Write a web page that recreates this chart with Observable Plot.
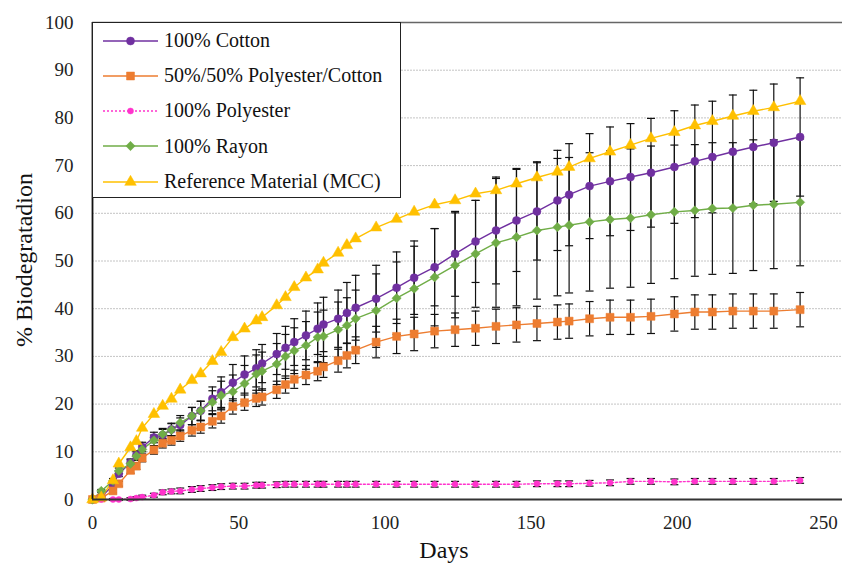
<!DOCTYPE html>
<html><head><meta charset="utf-8">
<script src="https://cdn.jsdelivr.net/npm/d3@7"></script>
<script src="https://cdn.jsdelivr.net/npm/@observablehq/plot@0.6"></script>
<style>
body{margin:0;background:#fff;}
#wrap{position:relative;width:842px;height:566px;font-family:"Liberation Serif","Times New Roman",serif;overflow:hidden;}
#legend{position:absolute;left:92px;top:22px;width:309px;height:176px;border:1.5px solid #222;background:#fff;box-sizing:border-box;}
.row{position:absolute;left:0;height:30px;display:flex;align-items:center;font-size:20px;color:#111;white-space:nowrap;}
.row svg{margin-left:10px;margin-right:6px;}
.title{position:absolute;font-size:24px;color:#111;white-space:nowrap;}
</style></head><body><div id="wrap"></div>
<script>
// ---- data ----
const days = [0,3,7,9,13,15,17,21,24,27, 30,34,37,41,44,48,52,56,58,63, 66,69,73,77,79,84,87,90,97,104, 110,117,124,131,138,145,152,159,163,170, 177,184,191,199,206,212,219,226,233,242];

const cotton = [0,0.5,3.0,5.4,7.7,9.3,11.0,13.0,13.5,14.7, 15.6,17.5,18.6,21.1,22.5,24.5,26.2,27.5,28.5,30.5, 31.8,33.0,34.4,35.8,36.7,37.9,39.1,40.2,42.1,44.4, 46.5,48.7,51.5,54.1,56.4,58.5,60.4,62.7,63.9,65.7, 66.7,67.6,68.5,69.7,70.9,71.8,72.9,73.9,74.8,76.0];
const cottonErr = [0,0.3,0.5,0.6,0.8,0.9,1.0,1.1,1.2,1.3, 1.5,1.8,2.0,2.5,3.2,3.8,3.9,3.9,4.0,4.3, 4.5,4.9,5.1,5.4,5.7,6.0,6.4,6.8,7.0,7.5, 7.7,8.1,8.9,8.6,11.2,10.7,10.2,10.5,10.7,11.0, 11.4,11.2,11.4,11.8,11.8,11.7,11.9,11.9,12.3,12.4];

const blend = [0,0.3,1.8,3.3,6.1,7.0,8.7,10.4,11.8,12.4, 13.3,14.5,15.2,16.4,17.5,19.5,20.3,21.2,21.5,23.0, 24.1,25.2,26.1,26.9,27.8,29.1,30.2,31.3,33.0,34.2, 34.7,35.3,35.6,35.9,36.3,36.6,36.9,37.2,37.4,37.9, 38.2,38.2,38.4,38.9,39.3,39.3,39.5,39.5,39.5,39.8];
const blendErr = [0,0.2,0.4,0.5,0.6,0.7,0.8,0.9,1.0,1.0, 1.1,1.2,1.3,1.4,1.5,1.6,1.6,1.7,1.7,1.8, 1.8,1.9,2.0,2.0,2.2,2.4,2.6,2.8,3.3,3.6, 3.5,3.5,3.5,3.6,3.6,3.6,3.6,3.6,3.6,3.6, 3.6,3.6,3.6,3.6,3.6,3.6,3.6,3.6,3.6,3.6];

const polyester = [0,0,0,0,0.1,0.3,0.5,0.9,1.5,1.7, 1.8,2.1,2.3,2.5,2.7,2.8,2.8,3.0,3.0,3.1, 3.2,3.2,3.2,3.2,3.2,3.2,3.2,3.2,3.2,3.2, 3.2,3.2,3.2,3.2,3.2,3.2,3.3,3.3,3.3,3.4, 3.5,3.8,3.8,3.7,3.8,3.8,3.8,3.8,3.8,4.0];
const polyesterErr = [0,0,0.2,0.2,0.3,0.3,0.4,0.4,0.5,0.5, 0.6,0.6,0.6,0.6,0.6,0.6,0.6,0.6,0.6,0.6, 0.6,0.6,0.6,0.6,0.6,0.6,0.6,0.6,0.6,0.6, 0.6,0.6,0.6,0.6,0.6,0.6,0.6,0.6,0.6,0.6, 0.6,0.6,0.6,0.6,0.6,0.6,0.6,0.6,0.6,0.6];

const rayon = [0,1.8,3.9,6.0,7.5,9.1,10.5,12.4,13.7,14.6, 16.1,17.5,18.6,20.4,21.8,22.6,24.3,26.3,26.9,28.4, 30.0,31.2,32.3,34.0,34.2,35.6,36.5,37.9,39.6,42.2, 44.2,46.6,49.1,51.5,53.8,55.0,56.4,57.1,57.5,58.2, 58.7,59.0,59.7,60.3,60.6,61.0,61.1,61.7,61.9,62.3];
const rayonErr = [0,0.3,0.5,0.6,0.8,0.9,1.0,1.1,1.2,1.3, 1.5,1.8,2.0,2.4,3.0,3.5,3.8,4.0,4.0,4.3, 4.6,4.8,5.0,5.3,5.5,5.8,5.8,6.0,7.7,7.6, 8.9,10.2,11.0,11.2,13.5,14.4,14.4,14.4,14.2,14.5, 14.4,14.5,14.4,14.0,13.8,13.8,13.7,13.7,13.5,13.3];

const mcc = [0,0.4,4.0,7.5,10.9,12.2,15.0,17.9,19.6,21.1, 23.0,25.0,26.4,29.0,30.9,34.0,35.8,37.5,38.2,40.7, 42.4,44.5,46.5,48.2,49.6,51.7,53.3,54.7,57.0,58.8, 60.3,61.8,62.7,64.1,64.8,66.2,67.5,68.7,69.7,71.5, 72.9,74.3,75.7,77.0,78.4,79.3,80.4,81.4,82.2,83.5];

const seriesNames = ["100% Cotton","50%/50% Polyester/Cotton","100% Polyester","100% Rayon","Reference Material (MCC)"];
const seriesValues = [cotton, blend, polyester, rayon, mcc];
const seriesErrors = [cottonErr, blendErr, polyesterErr, rayonErr, null];
const seriesColors = ["#7030A0","#ED7D31","#FF33CC","#70AD47","#FFC000"];
const seriesSymbols = ["circle","square","circle","diamond2","triangle"];
const seriesR = [4,4.5,3,4.2,4.3];
const seriesDash = [null,null,"2,2",null,null];

const xTicks = [0,50,100,150,200,250];
const yTicks = [0,10,20,30,40,50,60,70,80,90,100];

// ---- build ----
const series = seriesNames.map((name,k)=>({
  name, color: seriesColors[k], symbol: seriesSymbols[k], r: seriesR[k], dash: seriesDash[k],
  rows: days.map((d,i)=>({day:d, v: seriesValues[k][i], e: seriesErrors[k] ? seriesErrors[k][i] : 0, s: name}))
}));
const errRows = series.flatMap(s => s.rows.filter(r => r.e > 0));

const cap = {draw(ctx){ ctx.moveTo(-4,0); ctx.lineTo(4,0); }};

const marks = [
  Plot.ruleY(yTicks.filter(t => t > 0 && t < 100), {stroke:"#c4c4c4", strokeOpacity:1, strokeWidth:1, strokeDasharray:"2,1"}),
  Plot.ruleY([100], {stroke:"#666", strokeOpacity:1, strokeWidth:1.3}),
  Plot.axisY(yTicks, {tickSize:0, tickPadding:19, fontSize:19, fill:"#222", label:null}),
  Plot.axisX(xTicks, {tickSize:0, tickPadding:16, fontSize:19, fill:"#222", label:null}),
  Plot.ruleX(errRows, {x:"day", y1: d => d.v - d.e, y2: d => d.v + d.e, stroke:"#111", strokeWidth:1.2}),
  Plot.dot(errRows, {x:"day", y: d => d.v + d.e, symbol: cap, stroke:"#111", strokeWidth:1.2, fill:"none", r:4}),
  Plot.dot(errRows, {x:"day", y: d => d.v - d.e, symbol: cap, stroke:"#111", strokeWidth:1.2, fill:"none", r:4})
];
for (const s of series) {
  marks.push(Plot.line(s.rows, {x:"day", y:"v", stroke:s.color, strokeWidth:1.4, strokeDasharray: s.dash || undefined}));
}
for (const s of series) {
  marks.push(Plot.dot(s.rows, {x:"day", y:"v", symbol:s.symbol, r:s.r, fill:s.color, stroke:s.color, strokeWidth:0.5}));
}
marks.push(Plot.ruleX([0], {stroke:"#111", strokeWidth:1.8}));
marks.push(Plot.ruleY([0], {stroke:"#333", strokeWidth:1.8}));

const chart = Plot.plot({
  width: 842, height: 566,
  marginLeft: 92, marginRight: 0, marginTop: 22, marginBottom: 67,
  style: {fontFamily: '"Liberation Serif","Times New Roman",serif', background:"#fff", overflow:"visible"},
  x: {domain:[0,256.5], axis:null},
  y: {domain:[0,100], axis:null},
  marks
});
const wrap = document.getElementById("wrap");
wrap.appendChild(chart);

// axis titles
const xt = document.createElement("div");
xt.className = "title"; xt.textContent = "Days";
xt.style.left = "444px"; xt.style.top = "550px"; xt.style.transform = "translate(-50%,-50%)";
wrap.appendChild(xt);
const yt = document.createElement("div");
yt.className = "title"; yt.textContent = "% Biodegratadion";
yt.style.left = "24px"; yt.style.top = "260px"; yt.style.transform = "translate(-50%,-50%) rotate(-90deg)";
wrap.appendChild(yt);

// legend
const leg = document.createElement("div");
leg.id = "legend";
wrap.appendChild(leg);
const rowCenters = [19, 54, 89, 124.5, 160];
series.forEach((s,k) => {
  const row = document.createElement("div");
  row.className = "row";
  row.style.top = (rowCenters[k] - 15 - 1.5) + "px";
  const sw = d3.create("svg").attr("width",55).attr("height",16);
  sw.append("line").attr("x1",0).attr("x2",55).attr("y1",8).attr("y2",8)
    .attr("stroke",s.color).attr("stroke-width",1.4).attr("stroke-dasharray", s.dash);
  const symMap = {circle:d3.symbolCircle, square:d3.symbolSquare, diamond2:d3.symbolDiamond2, triangle:d3.symbolTriangle};
  sw.append("path").attr("transform","translate(27.5,8)")
    .attr("d", d3.symbol(symMap[s.symbol], Math.PI*s.r*s.r)())
    .attr("fill", s.color).attr("stroke", s.color).attr("stroke-width",0.5);
  row.appendChild(sw.node());
  const t = document.createElement("span");
  t.textContent = s.name;
  row.appendChild(t);
  leg.appendChild(row);
});
</script></body></html>
